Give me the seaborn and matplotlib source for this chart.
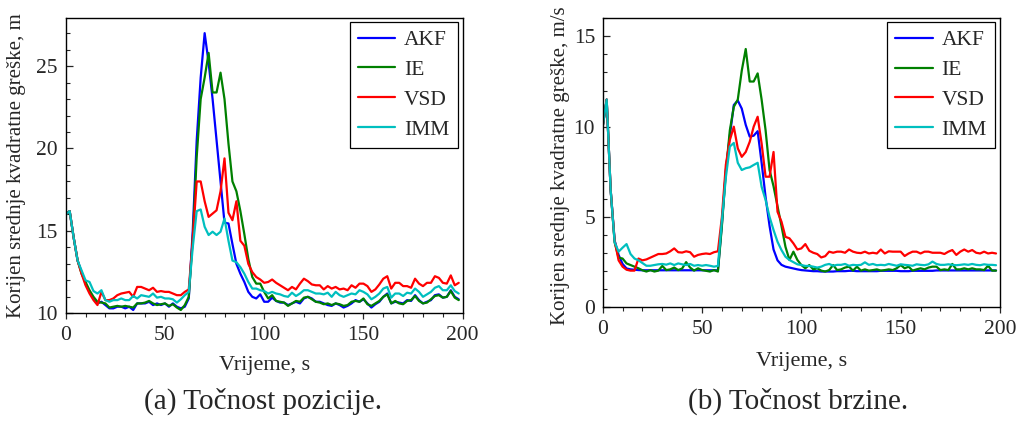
import numpy as np
import pandas as pd
import matplotlib
matplotlib.use("Agg")
import matplotlib.pyplot as plt
import seaborn as sns
from matplotlib.ticker import MultipleLocator

# ---------------- data ----------------
time_s = np.arange(0, 200, 2)
methods = ["AKF", "IE", "VSD", "IMM"]
colors = ["#0000ff", "#008000", "#ff0000", "#00bfbf"]

# (a) position RMSE, m
pos_akf = [16.0, 16.2, 14.6, 13.2, 12.5, 11.8, 11.3, 10.9, 10.6, 10.7,
           10.5, 10.3, 10.3, 10.4, 10.4, 10.3, 10.4, 10.2, 10.6, 10.6,
           10.6, 10.7, 10.5, 10.6, 10.5, 10.6, 10.4, 10.6, 10.4, 10.3,
           10.4, 10.9, 15.0, 20.5, 24.3, 27.0, 25.2, 23.0, 20.5, 18.0,
           15.5, 15.45, 14.2, 13.0, 12.4, 11.9, 11.3, 11.0, 10.9, 11.15,
           10.7, 10.7, 10.95, 10.75, 10.65, 10.65, 10.5, 10.6, 10.7, 10.6,
           10.9, 11.0, 10.9, 10.7, 10.7, 10.6, 10.5, 10.45, 10.6, 10.5,
           10.35, 10.45, 10.6, 10.8, 10.7, 10.85, 10.6, 10.35, 10.55, 10.7,
           11.0, 11.2, 10.6, 10.7, 10.65, 10.6, 10.8, 10.75, 11.1, 10.8,
           10.6, 10.7, 10.8, 11.1, 11.15, 10.95, 11.0, 11.4, 11.0, 10.85]
pos_ie = [16.0, 16.2, 14.6, 13.2, 12.4, 11.9, 11.4, 11.0, 10.7, 10.65,
          10.6, 10.35, 10.4, 10.45, 10.4, 10.45, 10.4, 10.35, 10.6, 10.6,
          10.65, 10.75, 10.6, 10.5, 10.55, 10.6, 10.45, 10.55, 10.35, 10.2,
          10.5, 11.0, 14.5, 19.5, 23.0, 24.3, 25.8, 23.4, 23.4, 24.6,
          23.0, 20.3, 18.0, 17.4, 16.2, 14.8, 13.3, 12.2, 11.8, 11.8,
          11.3, 10.9, 11.1, 10.75, 10.7, 10.65, 10.45, 10.6, 10.75, 10.7,
          10.95, 11.0, 10.85, 10.7, 10.65, 10.55, 10.6, 10.5, 10.6, 10.55,
          10.45, 10.5, 10.7, 10.75, 10.7, 10.9, 10.55, 10.45, 10.6, 10.75,
          11.0, 11.15, 10.6, 10.75, 10.6, 10.55, 10.75, 10.8, 11.05, 10.75,
          10.6, 10.65, 10.85, 11.05, 11.1, 10.95, 11.0, 11.35, 10.95, 10.8]
pos_vsd = [16.0, 16.2, 14.6, 13.2, 12.4, 11.7, 11.2, 10.8, 10.5, 11.3,
           10.8, 10.8, 10.9, 11.1, 11.2, 11.25, 11.3, 11.0, 11.6, 11.6,
           11.5, 11.4, 11.55, 11.3, 11.35, 11.3, 11.3, 11.2, 11.1, 11.1,
           11.3, 11.45, 14.5, 18.0, 18.0, 16.8, 15.85, 16.05, 16.25, 17.4,
           19.4, 16.1, 15.65, 16.8, 14.4, 14.1, 13.0, 12.5, 12.2, 12.05,
           11.85, 11.9, 12.05, 11.85, 11.7, 11.55, 11.4, 11.6, 11.45, 11.8,
           12.1, 11.95, 11.75, 11.7, 11.7, 11.45, 11.65, 11.5, 11.6, 11.45,
           11.5, 11.4, 11.7, 11.55, 11.8, 11.8, 11.65, 11.3, 11.45, 11.75,
           12.1, 12.25, 11.5, 11.85, 11.85, 11.65, 11.65, 11.55, 12.1, 11.8,
           11.65, 11.85, 11.85, 12.25, 12.15, 11.85, 11.8, 12.3, 11.7, 11.85]
pos_imm = [16.0, 16.2, 14.6, 13.2, 12.6, 12.0, 11.9, 11.35, 11.2, 11.4,
           10.8, 10.7, 10.8, 10.8, 10.9, 10.8, 10.8, 11.05, 10.9, 11.1,
           11.05, 11.0, 11.2, 10.95, 11.0, 10.9, 10.9, 10.85, 10.65, 10.85,
           11.1, 11.3, 14.0, 16.2, 16.3, 15.25, 14.75, 14.95, 14.75, 14.95,
           15.75, 14.4, 13.2, 13.1, 12.8, 12.4, 11.9, 11.5, 11.5, 11.4,
           11.35, 11.2, 11.3, 11.2, 11.15, 11.05, 11.0, 11.25, 11.05, 11.2,
           11.4, 11.4, 11.3, 11.2, 11.2, 11.15, 11.25, 11.0, 11.3, 11.1,
           11.0, 11.1, 11.2, 11.15, 11.4, 11.3, 11.15, 10.85, 11.0, 11.2,
           11.5, 11.6, 10.95, 11.2, 11.2, 11.05, 11.25, 11.2, 11.5, 11.3,
           11.0, 11.15, 11.3, 11.55, 11.65, 11.4, 11.4, 11.7, 11.35, 11.2]

# (b) velocity RMSE, m/s
vel_akf = [10.0, 11.5, 6.5, 3.7, 2.9, 2.4, 2.15, 2.1, 2.08, 2.06,
           2.05, 2.05, 2.05, 2.05, 2.05, 2.05, 2.05, 2.05, 2.05, 2.05,
           2.05, 2.05, 2.05, 2.05, 2.05, 2.05, 2.05, 2.05, 2.05, 2.05,
           4.6, 7.6, 9.5, 11.2, 11.45, 11.0, 10.1, 9.45, 9.5, 9.75,
           8.0, 6.1, 4.5, 3.2, 2.6, 2.35, 2.25, 2.2, 2.15, 2.1,
           2.06, 2.04, 2.02, 2.0, 2.0, 1.98, 1.98, 1.98, 1.98, 2.0,
           2.0, 2.0, 2.02, 2.02, 2.0, 2.0, 2.0, 2.0, 2.0, 2.0,
           2.02, 2.02, 2.02, 2.02, 2.02, 2.0, 2.0, 2.0, 2.02, 2.02,
           2.02, 2.02, 2.02, 2.02, 2.04, 2.04, 2.04, 2.04, 2.04, 2.04,
           2.04, 2.04, 2.04, 2.04, 2.04, 2.04, 2.04, 2.04, 2.04, 2.04]
vel_ie = [10.0, 11.5, 6.5, 3.6, 2.75, 2.7, 2.43, 2.34, 2.25, 2.16,
          2.05, 1.98, 2.06, 1.98, 2.03, 2.29, 2.06, 2.1, 2.2, 2.06,
          2.15, 2.5, 2.2, 2.03, 2.16, 2.06, 2.02, 1.98, 2.06, 1.98,
          4.5, 7.5, 9.8, 11.1, 11.5, 13.1, 14.3, 12.5, 12.5, 12.95,
          11.5, 9.8, 7.6, 6.7, 5.6, 4.5, 3.35, 2.62, 3.08, 2.62,
          2.34, 2.16, 2.34, 2.1, 2.16, 2.03, 1.98, 2.06, 2.34, 2.06,
          2.1, 2.2, 2.25, 2.03, 2.25, 2.03, 2.1, 2.03, 2.06, 2.1,
          2.03, 2.06, 2.1, 2.06, 2.16, 2.34, 2.16, 2.25, 2.03, 2.1,
          2.16, 2.1, 2.2, 2.25, 2.25, 2.06, 2.1, 2.06, 2.4, 2.1,
          2.1, 2.16, 2.1, 2.16, 2.1, 2.1, 2.06, 2.3, 2.03, 2.03]
vel_vsd = [10.0, 11.5, 6.5, 3.7, 2.6, 2.25, 2.08, 2.03, 2.03, 2.7,
           2.6, 2.65, 2.75, 2.85, 2.95, 2.95, 2.98, 3.1, 3.26, 3.05,
           3.03, 3.1, 3.05, 2.8, 2.9, 2.95, 2.98, 2.95, 3.05, 3.1,
           5.0, 7.9, 9.26, 10.0, 8.8, 8.33, 8.6, 9.16, 10.0, 10.55,
           9.07, 7.23, 7.23, 8.6, 5.29, 4.74, 3.9, 3.82, 3.54, 3.2,
           3.26, 3.5, 3.13, 3.02, 2.95, 2.76, 2.83, 3.08, 3.02, 3.08,
           3.08, 3.02, 3.2, 3.08, 3.02, 3.0, 3.08, 2.98, 3.02, 2.98,
           3.2, 2.98, 3.1, 3.08, 3.08, 3.08, 2.84, 2.98, 3.08, 3.08,
           2.98, 3.08, 3.08, 3.02, 3.02, 3.02, 2.95, 3.08, 3.17, 2.9,
           3.08, 3.2, 3.08, 3.17, 3.02, 2.98, 3.08, 2.98, 3.02, 2.98]
vel_imm = [10.0, 11.5, 6.5, 3.6, 3.08, 3.3, 3.5, 2.95, 2.7, 2.6,
           2.45, 2.3, 2.3, 2.34, 2.38, 2.4, 2.36, 2.43, 2.34, 2.43,
           2.38, 2.34, 2.4, 2.3, 2.34, 2.3, 2.34, 2.3, 2.25, 2.29,
           4.8, 7.2, 8.9, 9.1, 8.0, 7.6, 7.7, 7.75, 7.88, 8.0,
           6.67, 5.94, 5.0, 4.28, 3.63, 3.17, 2.8, 2.62, 2.5, 2.38,
           2.34, 2.29, 2.29, 2.25, 2.2, 2.25, 2.35, 2.4, 2.3, 2.35,
           2.35, 2.4, 2.3, 2.35, 2.33, 2.35, 2.49, 2.35, 2.4, 2.33,
           2.35, 2.33, 2.4, 2.35, 2.3, 2.38, 2.35, 2.33, 2.3, 2.38,
           2.35, 2.33, 2.38, 2.53, 2.4, 2.35, 2.35, 2.38, 2.35, 2.33,
           2.35, 2.38, 2.35, 2.4, 2.35, 2.33, 2.38, 2.35, 2.35, 2.33]

ylabel_pos = "Korijen srednje kvadratne greške, m"
ylabel_vel = "Korijen srednje kvadratne greške, m/s"
xlabel_txt = "Vrijeme, s"
caption_a = "(a) Točnost pozicije."
caption_b = "(b) Točnost brzine."

# ---------------- style ----------------
sns.set_style("white")
plt.rcParams["font.family"] = ["Liberation Serif", "DejaVu Serif"]

W, H = 1017, 428
fig = plt.figure(figsize=(W / 100, H / 100), dpi=100)
ax1 = fig.add_axes([65.7 / W, 1 - 313.3 / H, 397.0 / W, 295.0 / H])
ax2 = fig.add_axes([602.7 / W, 1 - 307.3 / H, 397.3 / W, 289.0 / H])


def panel(ax, series, ylim, ylabel, ylab_xy, xlab_y, leg_anchor, ypad):
    df = pd.DataFrame({
        "t": np.tile(time_s, len(methods)),
        "v": np.concatenate([np.asarray(s, float) for s in series]),
        "m": np.repeat(methods, len(time_s)),
    })
    sns.lineplot(data=df, x="t", y="v", hue="m", hue_order=methods,
                 palette=colors, ax=ax, linewidth=1.6, errorbar=None,
                 estimator=None, sort=True)
    ax.set_xlim(0, 200)
    ax.set_ylim(*ylim)
    ax.xaxis.set_major_locator(MultipleLocator(50))
    ax.xaxis.set_minor_locator(MultipleLocator(10))
    ax.yaxis.set_major_locator(MultipleLocator(5))
    ax.yaxis.set_minor_locator(MultipleLocator(1))
    ax.tick_params(axis="x", which="major", direction="out", length=4.5,
                   width=0.9, pad=5, labelsize=15.5, bottom=True, top=False)
    ax.tick_params(axis="x", which="minor", direction="out", length=3,
                   width=0.8, bottom=True, top=False)
    ax.tick_params(axis="y", which="major", direction="in", length=5,
                   width=0.9, pad=ypad, labelsize=15.5, left=True, right=False)
    ax.tick_params(axis="y", which="minor", direction="in", length=3,
                   width=0.8, left=True, right=False)
    for sp in ax.spines.values():
        sp.set_visible(True)
        sp.set_color("black")
        sp.set_linewidth(1.0)
    ax.set_ylabel(ylabel, fontsize=15.0)
    ax.yaxis.set_label_coords(*ylab_xy)
    ax.set_xlabel(xlabel_txt, fontsize=16)
    ax.xaxis.set_label_coords(0.5, xlab_y)
    handles, labels = ax.get_legend_handles_labels()
    leg = ax.legend(handles, labels, loc="upper right", bbox_to_anchor=leg_anchor,
                    frameon=True, fancybox=False, edgecolor="black",
                    framealpha=1, fontsize=15.5, handlelength=1.75,
                    handletextpad=0.4, labelspacing=0.45, borderpad=0.38,
                    borderaxespad=0)
    leg.get_frame().set_linewidth(0.9)
    for h in leg.get_lines():
        h.set_linewidth(1.6)


panel(ax1, [pos_akf, pos_ie, pos_vsd, pos_imm], (10, 27.9), ylabel_pos,
      (-0.100, 0.5), -0.145, (0.987, 0.9875), 6)
panel(ax2, [vel_akf, vel_ie, vel_vsd, vel_imm], (0, 16.0), ylabel_vel,
      (-0.082, 0.49), -0.155, (0.9874, 0.987), 5.5)

fig.text(263 / W, 1 - 401 / H, caption_a, ha="center", va="center", fontsize=21)
fig.text(798 / W, 1 - 401 / H, caption_b, ha="center", va="center", fontsize=21)

fig.savefig("out.png", dpi=100)
